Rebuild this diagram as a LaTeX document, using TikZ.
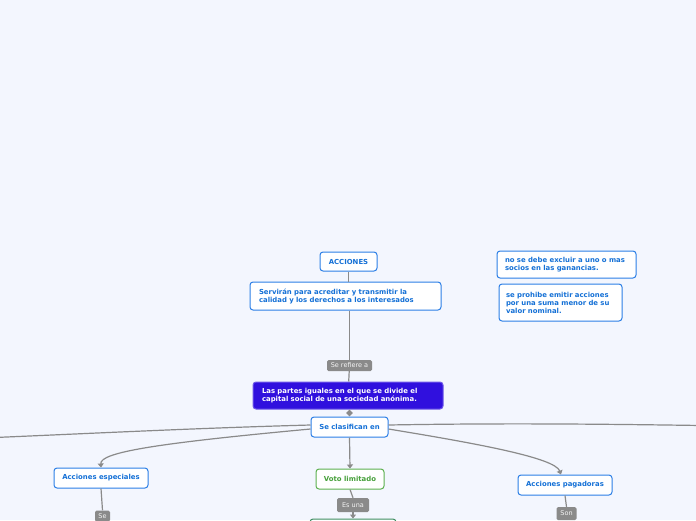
\documentclass[tikz,border=0pt]{standalone}
\usepackage{fontspec}
\setmainfont{DejaVu Sans}
\usetikzlibrary{shapes.geometric,arrows.meta}

\definecolor{bgblue}{HTML}{F3F6FE}
\definecolor{boxblue}{HTML}{2C7FE6}
\definecolor{txtblue}{HTML}{1470D6}
\definecolor{purplebox}{HTML}{3010DE}
\definecolor{boxgreen}{HTML}{5CB04F}
\definecolor{txtgreen}{HTML}{46A03A}
\definecolor{darkgreen}{HTML}{3E8E62}
\definecolor{linkgray}{HTML}{8A8A8A}

\tikzset{
  concept/.style={draw=boxblue, fill=white, line width=1pt, rounded corners=3pt,
    text=txtblue, font=\fontsize{6.9}{8}\selectfont\bfseries, inner sep=0pt},
  linklabel/.style={fill=linkgray, rounded corners=1.5pt, text=white!92!gray,
    font=\fontsize{6.5}{7}\selectfont, inner sep=0pt},
  link/.style={draw=linkgray, line width=1.2pt},
  linkarrow/.style={link, -{Triangle[width=6pt,length=4pt]}},
}

\begin{document}
\begin{tikzpicture}[x=1pt,y=-1pt]
\useasboundingbox[fill=bgblue] (0,0) rectangle (696,520);

\node [concept, minimum width=57pt, minimum height=19pt] (acciones) at (348.5,261.5) {ACCIONES};
\node [concept, text width=173pt, inner xsep=9pt, minimum height=28pt, align=left] (servir) at (345.5,296)
  {Servirán para acreditar y transmitir la\\calidad y los derechos a los interesados};

\node [linklabel, minimum width=45pt, minimum height=11pt] (serefiere) at (349.5,365.5) {Se refiere a};

\node [concept, draw=purplebox!70!white, fill=purplebox, text=white, text width=172pt, inner xsep=9pt,
  minimum height=27pt, align=left] (partes) at (348,395.5)
  {Las partes iguales en el que se divide el\\capital social de una sociedad anónima.};
\node [diamond, fill=linkgray, inner sep=0pt, minimum size=7pt] (handle) at (349.5,413) {};

\node [concept, minimum width=77pt, minimum height=20pt] (clasif) at (349.5,427) {Se clasifican en};

\node [concept, minimum width=94pt, minimum height=20pt] (especiales) at (101,478) {Acciones especiales};
\node [concept, draw=boxgreen, text=txtgreen, minimum width=68pt, minimum height=20pt] (voto) at (350,479) {Voto limitado};
\node [concept, minimum width=94pt, minimum height=20pt] (pagadoras) at (565,485) {Acciones pagadoras};

\node [linklabel, minimum width=15pt, minimum height=11pt] (se) at (102.5,516) {Se};
\node [linklabel, minimum width=32pt, minimum height=14pt] (esuna) at (353,505) {Es una};
\node [linklabel, minimum width=20pt, minimum height=13pt] (son) at (566.5,513.5) {Son};
\node [concept, draw=darkgreen, minimum width=86pt, minimum height=24pt] (nextbox) at (353,531) {};

\node [concept, text width=123pt, inner xsep=8pt, minimum height=27pt, align=left] (excluir) at (566.5,264.5)
  {no se debe excluir a uno o mas\\socios en las ganancias.};
\node [concept, text width=109pt, inner xsep=7pt, minimum height=37pt, align=left] (prohibe) at (560.5,302.5)
  {se prohibe emitir acciones\\por una suma menor de su\\valor nominal.};

\coordinate (leftend) at (-5,437.5);
\coordinate (rightend) at (701,425.5);

\draw [link] (acciones.south) -- (acciones.south |- servir.north);
\draw [link] (serefiere.north |- servir.south) -- (serefiere);
\draw [link] (serefiere) -- (partes);
\draw [link] ([yshift=2pt]clasif.west) .. controls (200,428) and (100,433) .. (leftend); % off to the left
\draw [link] ([yshift=2pt]clasif.east) .. controls (500,423) and (600,424) .. (rightend); % off to the right
\draw [linkarrow] ([yshift=-2pt]clasif.west) .. controls (160,443) and (100,452) .. (especiales.north);
\draw [linkarrow] (clasif.south) -- (voto.north);
\draw [linkarrow] ([yshift=-2pt]clasif.east) .. controls (480,444) and (555,458) .. ([xshift=-4pt]pagadoras.north);
\draw [link] (especiales.south) -- (se.north);
\draw [link] (voto.south) -- (esuna.north);
\draw [linkarrow] (esuna.south) -- (nextbox.north);
\draw [link] (pagadoras.south) -- (son.north);

\end{tikzpicture}
\end{document}
